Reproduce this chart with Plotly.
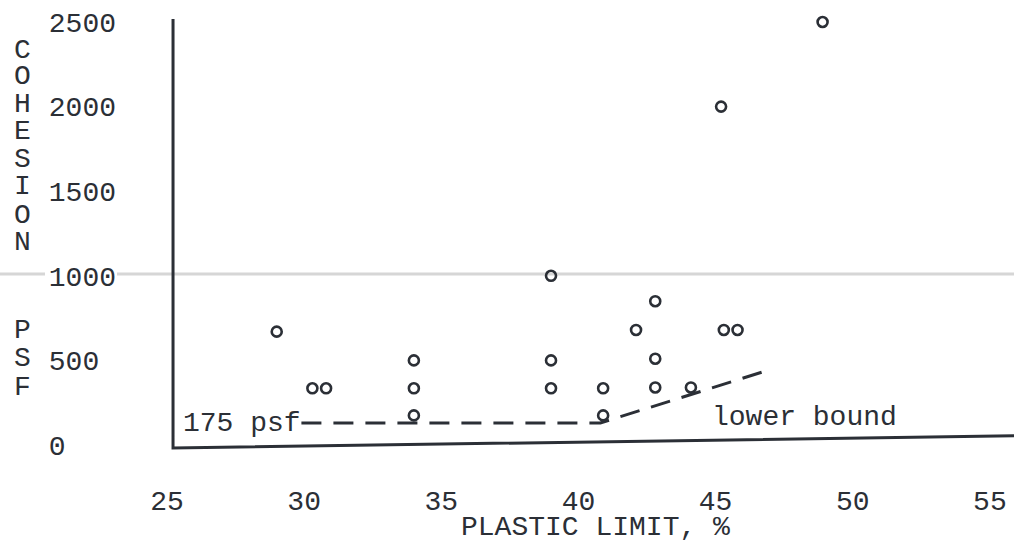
import plotly.graph_objects as go

# ---- data ----
plastic_limit = [29.0, 30.3, 30.8, 34.0, 34.0, 34.0, 39.0, 39.0, 39.0, 40.9, 40.9,
                 42.1, 42.8, 42.8, 42.8, 44.1, 45.3, 45.8, 45.2, 48.9]
cohesion_psf = [670, 335, 335, 500, 335, 175, 1000, 500, 335, 335, 175,
                680, 850, 510, 340, 340, 680, 680, 2000, 2500]

bound_x = [29.9, 40.8, 46.7]
bound_y = [130, 130, 431]

x_ticks = [25, 30, 35, 40, 45, 50, 55]
y_ticks = [0, 500, 1000, 1500, 2000, 2500]
y_tick_text = ["0\u00a0\u00a0\u00a0", "500\u00a0", "1000", "1500", "2000", "2500"]

title_letters_top = ["C", "O", "H", "E", "S", "I", "O", "N"]
title_letters_bottom = ["P", "S", "F"]

# frame lines (typed axes of the original)
frame_x = [25.22, 25.22, 56.0]
frame_y = [2518, -18, 55]

INK = "#2b2f36"
FONT = "Liberation Mono"
FS = 28

W, H = 1014, 546
PLOT_L, PLOT_R, PLOT_T, PLOT_B = 167, 1014, 0, 460   # page pixels
ML, MR, MT, MB = PLOT_L, W - PLOT_R, PLOT_T, H - PLOT_B
PW, PH = PLOT_R - PLOT_L, PLOT_B - PLOT_T

X_SCALE = 27.43          # px per unit
Y_ZERO_PX, Y_SCALE = 445.0, 0.1692

fig = go.Figure()

fig.add_trace(go.Scatter(x=frame_x, y=frame_y, mode="lines",
                         line=dict(color=INK, width=3), hoverinfo="skip"))
fig.add_trace(go.Scatter(x=bound_x, y=bound_y, mode="lines",
                         line=dict(color=INK, width=3, dash="20px,12px"), hoverinfo="skip"))
fig.add_trace(go.Scatter(x=plastic_limit, y=cohesion_psf, mode="markers",
                         marker=dict(symbol="circle-open", size=10, color=INK,
                                     line=dict(width=2.6, color=INK))))

def px_to_paper_x(px):
    return (px - PLOT_L) / PW

def px_to_paper_y(py):
    return (PLOT_B - py) / PH

annotations = []
top_pos = [50, 76, 104, 131, 159, 186, 216, 243]
bot_pos = [330, 358, 387]
for letter, py in zip(title_letters_top + title_letters_bottom, top_pos + bot_pos):
    annotations.append(dict(text=letter, xref="paper", yref="paper",
                            x=px_to_paper_x(22), y=px_to_paper_y(py),
                            xanchor="center", yanchor="middle", showarrow=False,
                            font=dict(family=FONT, size=FS, color=INK)))

annotations.append(dict(text="PLASTIC LIMIT, %", xref="paper", yref="paper",
                        x=px_to_paper_x(595), y=px_to_paper_y(527),
                        xanchor="center", yanchor="middle", showarrow=False,
                        font=dict(family=FONT, size=FS, color=INK)))
annotations.append(dict(text="175 psf", xref="x", yref="y", x=25.5, y=130,
                        xanchor="left", yanchor="middle", showarrow=False,
                        font=dict(family=FONT, size=FS, color=INK)))
annotations.append(dict(text="lower bound", xref="x", yref="y", x=44.8, y=160,
                        xanchor="left", yanchor="middle", showarrow=False,
                        font=dict(family=FONT, size=FS, color=INK)))

gray_y = 1010
shapes = [
    dict(type="line", xref="paper", yref="y", x0=px_to_paper_x(0), x1=px_to_paper_x(45),
         y0=gray_y, y1=gray_y, line=dict(color="#d6d6d6", width=3), layer="below"),
    dict(type="line", xref="paper", yref="y", x0=px_to_paper_x(117), x1=1.0,
         y0=gray_y, y1=gray_y, line=dict(color="#d6d6d6", width=3), layer="below"),
]

fig.update_layout(
    width=W, height=H,
    margin=dict(l=ML, r=MR, t=MT, b=MB, pad=0),
    paper_bgcolor="white", plot_bgcolor="white",
    showlegend=False,
    annotations=annotations,
    shapes=shapes,
    xaxis=dict(range=[25, 25 + PW / X_SCALE], tickvals=x_ticks,
               showgrid=False, zeroline=False, showline=False, ticks="",
               tickfont=dict(family=FONT, size=FS, color=INK),
               ticklabelstandoff=21),
    yaxis=dict(range=[(Y_ZERO_PX - PLOT_B) / Y_SCALE, (Y_ZERO_PX - PLOT_T) / Y_SCALE],
               tickvals=y_ticks, ticktext=y_tick_text,
               showgrid=False, zeroline=False, showline=False, ticks="",
               tickfont=dict(family=FONT, size=FS, color=INK),
               ticklabelstandoff=50),
)

# remove the default page margin so the 1014x546 figure fills the window exactly
fig.write_html("out.html",
               config={"displayModeBar": False},
               post_script="document.body.style.margin='0';document.body.style.overflow='hidden';")
